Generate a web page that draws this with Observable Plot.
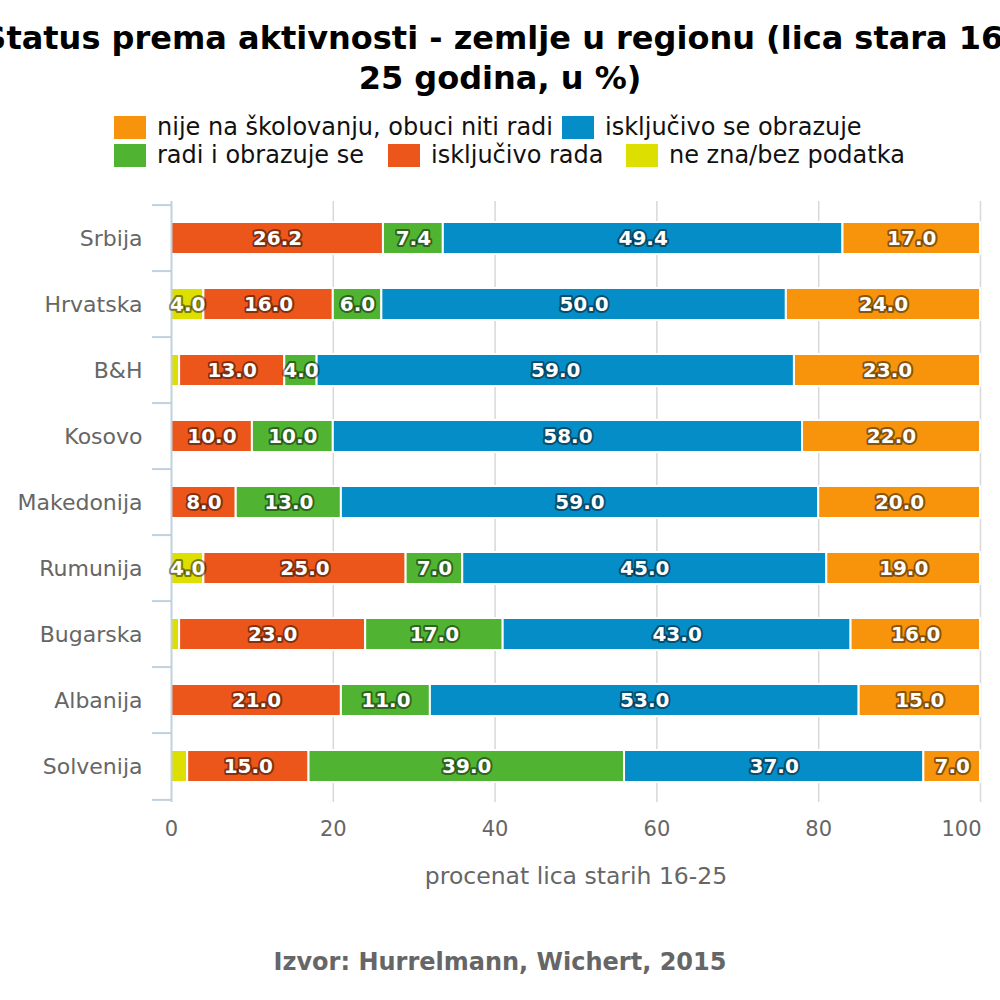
<!DOCTYPE html>
<html><head><meta charset="utf-8">
<script src="https://cdn.jsdelivr.net/npm/d3@7"></script>
<script src="https://cdn.jsdelivr.net/npm/@observablehq/plot@0.6"></script>
<style>
body{margin:0;background:#fff;font-family:"DejaVu Sans",sans-serif;}
#wrap{position:relative;width:1000px;height:1000px;overflow:hidden;}
.title{position:absolute;left:500px;transform:translateX(-50%);white-space:nowrap;font-weight:bold;font-size:32px;color:#000;line-height:40px;}
.item{position:absolute;display:flex;align-items:center;white-space:nowrap;font-size:24px;color:#111;height:28px;}
.sw{width:32px;height:23px;margin-right:11px;flex:none;}
#chart{position:absolute;left:0;top:190px;}
.caption{position:absolute;left:500px;transform:translateX(-50%);top:948px;white-space:nowrap;font-weight:bold;font-size:24px;color:#666;}
</style>
</head><body>
<div id="wrap">
  <div class="title" style="top:18px">Status prema aktivnosti - zemlje u regionu (lica stara 16-</div>
  <div class="title" style="top:58px">25 godina, u %)</div>
  <div id="legend"></div>
  <div id="chart"></div>
  <div class="caption">Izvor: Hurrelmann, Wichert, 2015</div>
</div>
<script>
const countries = ["Srbija","Hrvatska","B&H","Kosovo","Makedonija","Rumunija","Bugarska","Albanija","Solvenija"];
// stack order, left to right
const seriesNames = ["ne zna/bez podatka","isključivo rada","radi i obrazuje se","isključivo se obrazuje","nije na školovanju, obuci niti radi"];
const seriesColors = ["#DDDF00","#EC561B","#50B432","#058DC7","#F7940C"];
const neZna = [0,4,1,0,0,4,1,0,2];
const iskljucivoRada = [26.2,16,13,10,8,25,23,21,15];
const radiIObrazuje = [7.4,6,4,10,13,7,17,11,39];
const iskljucivoObrazuje = [49.4,50,59,58,59,45,43,53,37];
const nijeNaSkolovanju = [17,24,23,22,20,19,16,15,7];
const xTicks = [0,20,40,60,80,100];
const legendRow1 = ["nije na školovanju, obuci niti radi","isključivo se obrazuje"];
const legendRow2 = ["radi i obrazuje se","isključivo rada","ne zna/bez podatka"];
const xLabel = "procenat lica starih 16-25";

const seriesValues = [neZna, iskljucivoRada, radiIObrazuje, iskljucivoObrazuje, nijeNaSkolovanju];
const rows = [];
countries.forEach((c, i) => seriesNames.forEach((s, j) => {
  const v = seriesValues[j][i];
  if (v > 0) rows.push({country: c, series: s, value: v});
}));
const colorOf = s => seriesColors[seriesNames.indexOf(s)];

// legend layout (positions of items in the two rows)
const legendLayout = [
  {items: legendRow1, top: 113, lefts: [114, 562]},
  {items: legendRow2, top: 141, lefts: [114, 388, 626]}
];
const legendEl = document.getElementById("legend");
legendLayout.forEach(r => r.items.forEach((name, k) => {
  const it = document.createElement("div"); it.className = "item";
  it.style.top = r.top + "px"; it.style.left = r.lefts[k] + "px";
  const sw = document.createElement("div"); sw.className = "sw"; sw.style.background = colorOf(name);
  const tx = document.createElement("span"); tx.textContent = name;
  it.appendChild(sw); it.appendChild(tx); legendEl.appendChild(it);
}));

const W = 1000, H = 710, mt = 11, mb = 98, ml = 171, mr = 20;
const n = countries.length;
const step = (H - mt - mb) / n;
const labelText = d => d.value >= 3 ? d.value.toFixed(1) : "";
const lastTick = xTicks[xTicks.length - 1];

const chart = Plot.plot({
  width: W, height: H, marginTop: mt, marginBottom: mb, marginLeft: ml, marginRight: mr,
  style: {fontFamily: "DejaVu Sans, sans-serif", background: "transparent", overflow: "visible"},
  x: {domain: [0, 100]},
  y: {domain: countries, padding: 0},
  color: {domain: seriesNames, range: seriesColors},
  marks: [
    Plot.ruleX(xTicks.filter(d => d > 0), {stroke: "#d8d8d8", strokeWidth: 1.5}),
    Plot.barX(rows, Plot.stackX({x: "value", y: "country", fill: "series", order: seriesNames,
      stroke: "#fff", strokeWidth: 2, insetTop: 17, insetBottom: 17})),
    Plot.ruleX([0], {stroke: "#c0d0e0", strokeWidth: 2}),
    Plot.axisY({tickSize: 19, dy: -step / 2, text: null, label: null, stroke: "#c0d0e0", strokeWidth: 2}),
    Plot.axisY([countries[n - 1]], {tickSize: 19, dy: step / 2, text: null, label: null, stroke: "#c0d0e0", strokeWidth: 2}),
    Plot.axisY({tickSize: 0, tickPadding: 29, fontSize: 22, fill: "#666", label: null}),
    Plot.axisX(xTicks.filter(d => d !== lastTick), {tickSize: 0, tickPadding: 19, fontSize: 21, fill: "#666", label: null}),
    Plot.axisX([lastTick], {tickSize: 0, tickPadding: 19, fontSize: 21, fill: "#666", label: null, textAnchor: "end", dx: 1}),
    Plot.text([xLabel], {text: d => d, frameAnchor: "bottom", dy: 74, fontSize: 23.5, fill: "#666", lineAnchor: "middle"}),
    Plot.text(rows, Plot.stackX({x: "value", y: "country", z: "series", order: seriesNames, text: labelText,
      fontSize: 20, fontWeight: "bold", fill: "#000", fillOpacity: 0.5, stroke: "#000", strokeWidth: 4, strokeOpacity: 0.45, ariaLabel: "glow"})),
    Plot.text(rows, Plot.stackX({x: "value", y: "country", z: "series", order: seriesNames, text: labelText,
      fontSize: 20, fontWeight: "bold", fill: "#fff"}))
  ]
});
document.getElementById("chart").appendChild(chart);
const glow = chart.querySelector('g[aria-label="glow"]');
if (glow) glow.style.filter = "blur(2.5px)";
</script>
</body></html>
